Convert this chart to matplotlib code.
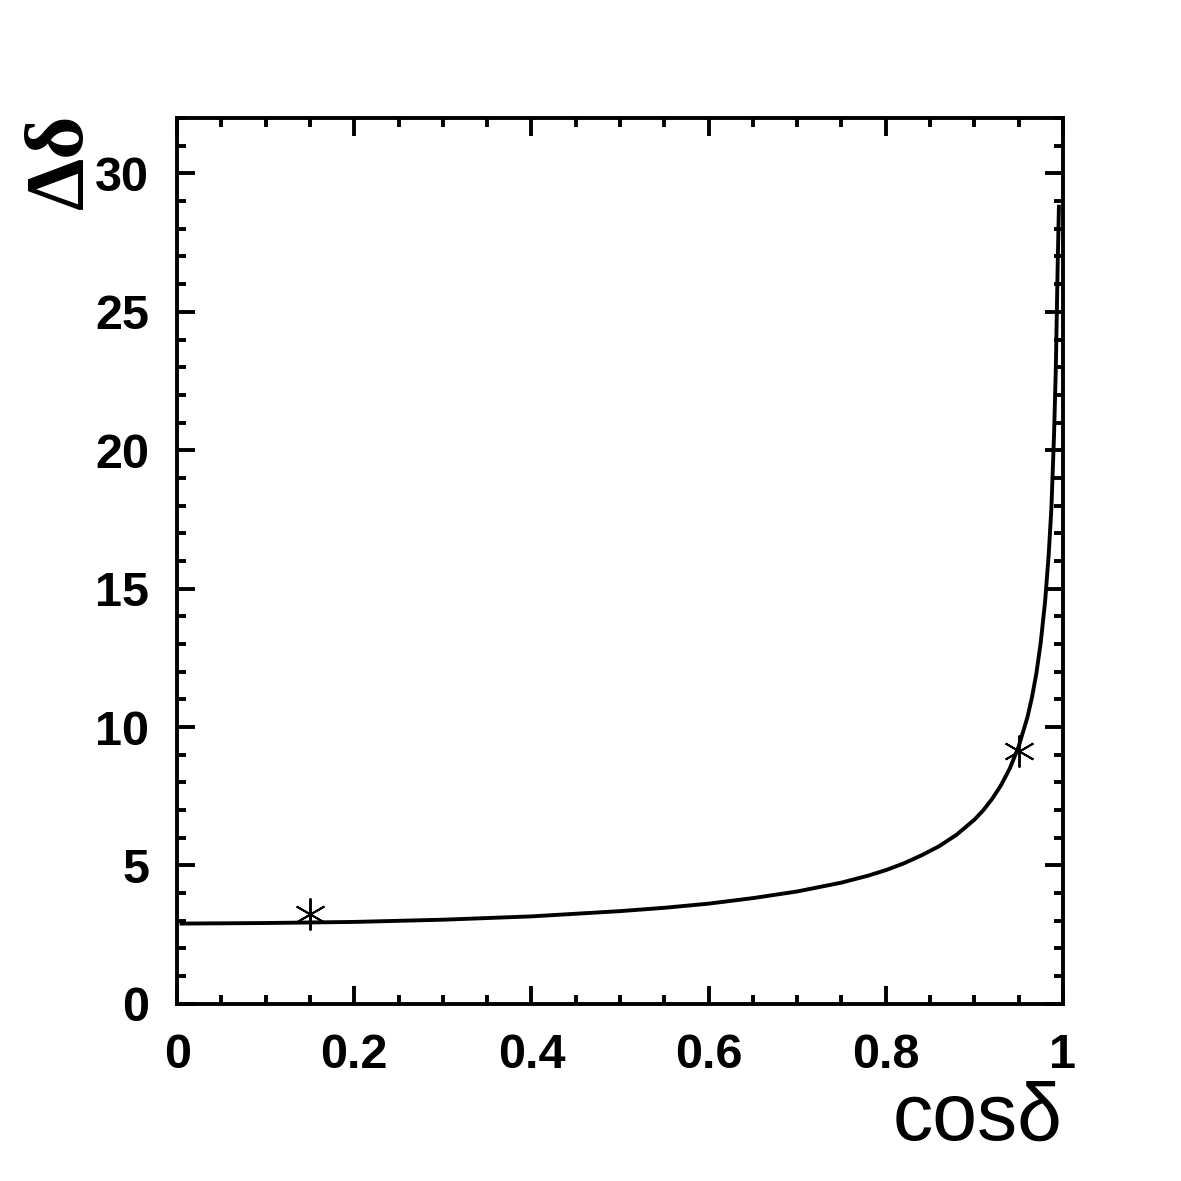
import numpy as np
import matplotlib
matplotlib.use('Agg')
from matplotlib import pyplot as plt
from matplotlib.ticker import MultipleLocator

# curve
cos_d = [0.005, 0.1, 0.2, 0.3, 0.4, 0.5, 0.55, 0.6, 0.65, 0.7, 0.75, 0.78, 0.8,
         0.82, 0.84, 0.86, 0.88, 0.9, 0.91, 0.92, 0.93, 0.94, 0.95, 0.96, 0.965,
         0.97, 0.975, 0.98, 0.984, 0.987, 0.99, 0.992, 0.994, 0.9955]
delta = [2.90, 2.92, 2.96, 3.04, 3.16, 3.35, 3.47, 3.62, 3.82, 4.06, 4.38, 4.63, 4.83,
         5.07, 5.36, 5.69, 6.11, 6.65, 6.99, 7.40, 7.89, 8.50, 9.29, 10.36, 11.06,
         11.93, 13.06, 14.57, 16.25, 17.90, 20.56, 22.95, 26.5, 28.8]

# the two measured points
pts_x = [0.15, 0.95]
pts_y = [3.25, 9.12]

fig = plt.figure(figsize=(11.81, 11.81), dpi=100)
ax = fig.add_axes([0.15, 0.15, 0.75, 0.75])

ax.plot(cos_d, delta, color='black', lw=2.8, solid_joinstyle='round')
ax.plot(pts_x, pts_y, ls='none', marker=(6, 2, 0), ms=23, mew=1.4, color='black')

ax.set_xlim(0, 1)
ax.set_ylim(0, 32)
ax.xaxis.set_minor_locator(MultipleLocator(0.05))
ax.yaxis.set_major_locator(MultipleLocator(5))
ax.yaxis.set_minor_locator(MultipleLocator(1))
ax.set_xticks([0, 0.2, 0.4, 0.6, 0.8, 1.0])
ax.set_xticklabels(['0', '0.2', '0.4', '0.6', '0.8', '1'])

for s in ax.spines.values():
    s.set_linewidth(2.8)
ax.tick_params(which='both', direction='in', top=True, right=True, width=2.8)
ax.tick_params(which='major', length=13)
ax.tick_params(which='minor', length=6.5)
ax.tick_params(axis='y', which='major', pad=20)
ax.tick_params(axis='x', which='major', pad=21)
for lab in ax.get_xticklabels() + ax.get_yticklabels():
    lab.set_fontfamily('Liberation Sans')
    lab.set_fontweight('bold')
    lab.set_fontsize(35)

fig.text(1062 / 1181, 1 - 1140 / 1181, 'cosδ', ha='right', va='baseline',
         fontsize=58, family='Liberation Sans')
fig.text(62 / 1181, 1 - 114 / 1181, 'Δδ', rotation=90, ha='center', va='top',
         fontsize=60, family='Liberation Serif', fontweight='bold')

fig.savefig('out.png', dpi=100)
